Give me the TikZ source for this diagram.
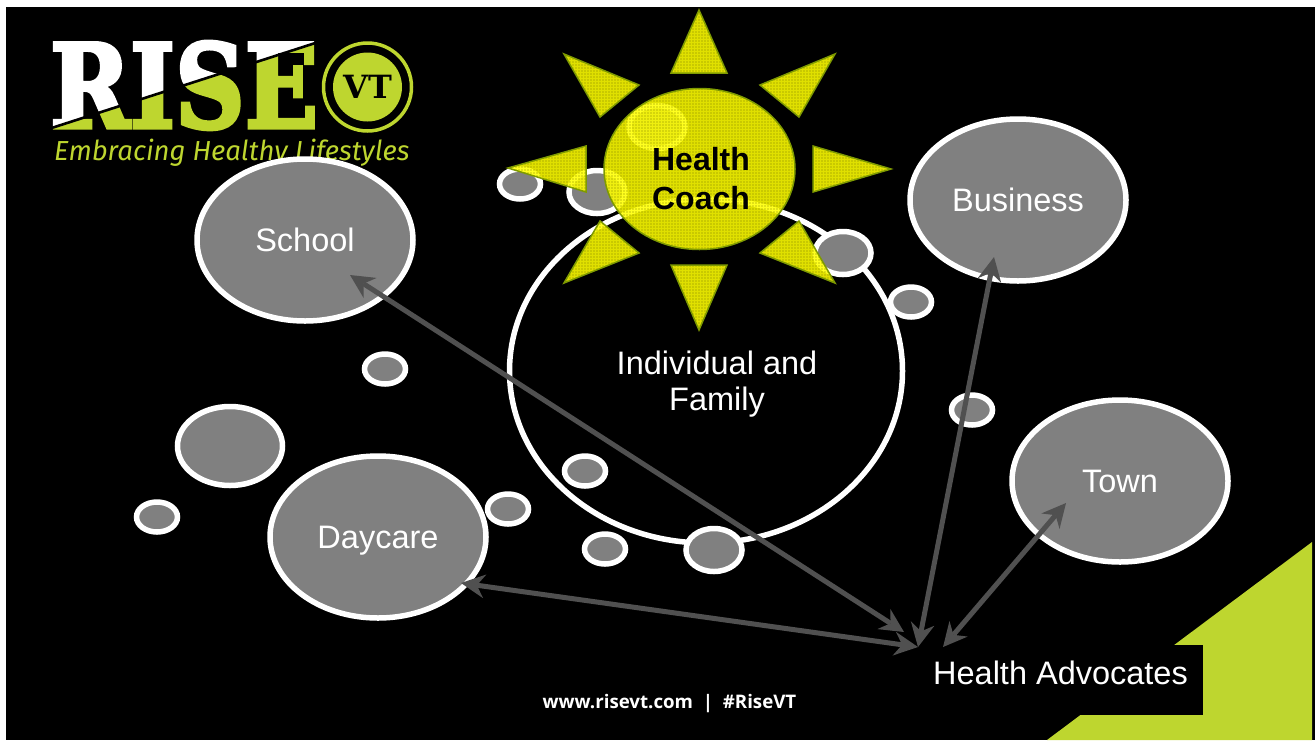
\documentclass[tikz,border=0pt]{standalone}
\usepackage{fontspec}
\setmainfont{Liberation Sans}
\newfontfamily\logofont[BoldFeatures={FakeBold=3.5}]{DejaVu Serif}
\newfontfamily\vtfont{DejaVu Serif}
\newfontfamily\tagfont{Fira Sans}
\newfontfamily\footfont{Open Sans}
\usetikzlibrary{shapes.geometric,arrows.meta,patterns.meta}
\definecolor{risegreen}{HTML}{BED62F}
\definecolor{bubblegray}{HTML}{808080}
\definecolor{arrowgray}{HTML}{505050}
\definecolor{sunyellow}{HTML}{FFFF00}
\definecolor{sunedge}{HTML}{7F9A00}
\definecolor{sundot}{HTML}{808000}
\tikzset{
  x=1pt,y=-1pt,
  bubble/.style={ellipse,draw=white,line width=5.5pt,fill=bubblegray,inner sep=0pt,outer sep=0pt,text=white,font=\fontsize{32.5}{36}\selectfont},
  bbig/.style={bubble,minimum width=216pt,minimum height=162pt},
  bmid/.style={bubble,minimum width=105pt,minimum height=79pt},
  bsma/.style={bubble,minimum width=56pt,minimum height=43pt},
  btin/.style={bubble,minimum width=41pt,minimum height=30pt},
  sunshape/.style={preaction={fill=sunyellow,fill opacity=.88},pattern={Dots[distance=3pt,radius=.65pt]},pattern color=sundot,draw=sunedge,line width=1.5pt,line join=miter},
  link/.style={draw=arrowgray,line width=5pt,{Stealth[length=24pt,width=24pt,inset=8pt,line width=0pt]}-{Stealth[length=24pt,width=24pt,inset=8pt,line width=0pt]}},
  label/.style={text=white,font=\fontsize{32.5}{36}\selectfont,align=center,inner sep=0pt}
}
\begin{document}
\begin{tikzpicture}
\useasboundingbox (0,0) rectangle (1316,740);
\fill[white] (0,0) rectangle (1316,740);
\fill[black] (6,7) rectangle (1315,740);
% corner triangle
\fill[risegreen] (1312,542) -- (1312,740) -- (1047,740) -- cycle;
% logo
\node[anchor=south west,inner sep=0pt,text=white,xscale=.83,transform shape] (risetext) at (50,129.5) {\logofont\bfseries\fontsize{116}{116}\selectfont RISE};
\fill[risegreen,blend mode=multiply] (40,132) -- (330,38) -- (330,134) -- (40,134) -- cycle;
\draw[black,line width=2.6pt] (50,128.5) -- (320,41.5);
\node[circle,draw=risegreen,line width=3.5pt,minimum size=88pt,inner sep=0pt] (vtring) at (367.5,87) {};
\node[circle,fill=risegreen,minimum size=69pt,inner sep=0pt,text=black] (vtdisc) at (367.5,87) {\vtfont\bfseries\fontsize{32}{32}\selectfont VT};
\node[anchor=west,inner sep=0pt,text=risegreen] (tagline) at (54,153) {\tagfont\itshape\fontsize{27.5}{30}\selectfont Embracing Healthy Lifestyles};
\node[inner sep=0pt,text=white] (footer) at (669.5,704) {\footfont\bfseries\fontsize{18.7}{20}\selectfont www.risevt.com\ \ |\ \ \#RiseVT};
% large circle
\node[ellipse,draw=white,line width=5.5pt,inner sep=0pt,minimum width=393pt,minimum height=344pt] (family) at (706,371) {};
\node[label] (familytext) at (717,384) {Individual and\\Family};
% bubbles
\node[bbig] (school) at (305,240) {School};
\node[bbig] (business) at (1018,200) {Business};
\node[bbig] (town) at (1120,481) {Town};
\node[bbig] (daycare) at (378,537) {};
\node[label] (daycaretext) at (378,541) {Daycare};
\node[bmid] (b1) at (230,446) {};
\node[bsma] (b2) at (714,550) {};
\node[bsma] (b3) at (843,253) {};
\node[bsma] (b4) at (597,192) {};
\node[bsma] (b5) at (657,127) {};
\node[btin] (b6) at (157,517) {};
\node[btin] (b7) at (385,369) {};
\node[btin] (b8) at (508,509) {};
\node[btin] (b9) at (585,471) {};
\node[btin] (b10) at (605,549) {};
\node[btin] (b11) at (911,302) {};
\node[btin] (b12) at (972,410) {};
\node[btin] (b13) at (520,184) {};
% sun
\path[sunshape] (699,10) -- (727,73) -- (671,73) -- cycle;
\path[sunshape] (564,54) -- (639,85) -- (600,117) -- cycle;
\path[sunshape] (835,54) -- (760,85) -- (799,117) -- cycle;
\path[sunshape] (508,168) -- (586,146) -- (586,192) -- cycle;
\path[sunshape] (891,169) -- (813,146) -- (813,192) -- cycle;
\path[sunshape] (564,283) -- (600,221) -- (639,253) -- cycle;
\path[sunshape] (835,283) -- (799,221) -- (760,253) -- cycle;
\path[sunshape] (699,330) -- (671,265) -- (727,265) -- cycle;
\node[ellipse,sunshape,inner sep=0pt,minimum width=191pt,minimum height=161pt] (sun) at (699.5,169) {};
\node[inner sep=0pt,align=center,text=black,font=\bfseries\fontsize{32}{39}\selectfont] (coach) at (701,179) {Health\\Coach};
% advocates
\fill[black] (900,645) rectangle (1203,715);
\node[label] (advocates) at (1060.5,673) {Health Advocates};
% arrows
\coordinate (aschool) at (350,275);
\coordinate (adaycare) at (461,583);
\coordinate (abusiness) at (994,257);
\coordinate (atown) at (1066,503);
\coordinate (h1) at (904,632);
\coordinate (h2) at (918,647);
\coordinate (h3) at (918,647);
\coordinate (h4) at (943,647);
\draw[link] (aschool) -- (h1);
\draw[link] (adaycare) -- (h2);
\draw[link] (abusiness) -- (h3);
\draw[link] (atown) -- (h4);
\end{tikzpicture}
\end{document}
